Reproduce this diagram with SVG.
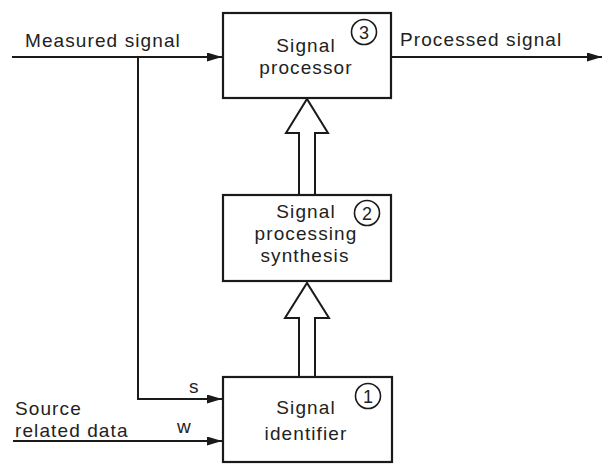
<svg xmlns="http://www.w3.org/2000/svg" width="602" height="464" viewBox="0 0 602 464">
<style>
  .box{fill:#fff;stroke:#1a1a1a;stroke-width:2.2}
  .bigarrow{fill:#fff;stroke:#1a1a1a;stroke-width:2;stroke-linejoin:miter}
  .ln{fill:none;stroke:#1a1a1a;stroke-width:2}
  .t{font-family:"Liberation Sans","DejaVu Sans",sans-serif;font-size:19px;fill:#222;letter-spacing:1.1px}
  .c{text-anchor:middle}
  .num{font-family:"Liberation Sans","DejaVu Sans",sans-serif;font-size:18px;fill:#222;text-anchor:middle}
  .circ{fill:none;stroke:#1a1a1a;stroke-width:1.6}
</style>
<defs>
  <marker id="ah" markerUnits="userSpaceOnUse" markerWidth="16" markerHeight="10" refX="15" refY="4.5" orient="auto">
    <path d="M0,0 L15,4.5 L0,9 Z" fill="#1a1a1a"/>
  </marker>
</defs>
<rect width="602" height="464" fill="#fff"/>

<g id="connectors">
  <path class="ln" d="M12,57 H222" marker-end="url(#ah)"/>
  <path class="ln" d="M138,57 V399 H222" marker-end="url(#ah)"/>
  <path class="ln" d="M391,57 H602" marker-end="url(#ah)"/>
  <path class="ln" d="M13,441 H222" marker-end="url(#ah)"/>
  <polygon class="bigarrow" points="299,195 299,133 286,133 307,99 328,133 315,133 315,195"/>
  <polygon class="bigarrow" points="299,377 299,318 285,318 307,283 329,318 315,318 315,377"/>
  <text class="t" x="25" y="47">Measured signal</text>
  <text class="t" x="400" y="46">Processed signal</text>
  <text class="t" x="189" y="393">s</text>
  <text class="t" x="177" y="433">w</text>
  <text class="t" x="15" y="415">Source</text>
  <text class="t" x="15" y="437">related data</text>
</g>

<g id="node3">
  <rect class="box" x="223" y="13" width="168" height="85"/>
  <text class="t c" x="306" y="52">Signal</text>
  <text class="t c" x="306" y="74">processor</text>
  <circle class="circ" cx="364" cy="32" r="12.5"/>
  <text class="num" x="364" y="38.5">3</text>
</g>

<g id="node2">
  <rect class="box" x="223" y="195" width="168" height="86"/>
  <text class="t c" x="306" y="218">Signal</text>
  <text class="t c" x="306" y="240">processing</text>
  <text class="t c" x="305" y="262">synthesis</text>
  <circle class="circ" cx="367" cy="213" r="12.5"/>
  <text class="num" x="367" y="219.5">2</text>
</g>

<g id="node1">
  <rect class="box" x="223" y="377" width="169" height="85"/>
  <text class="t c" x="306" y="414">Signal</text>
  <text class="t c" x="306" y="440">identifier</text>
  <circle class="circ" cx="368" cy="396" r="12.5"/>
  <text class="num" x="368" y="402.5">1</text>
</g>
</svg>
